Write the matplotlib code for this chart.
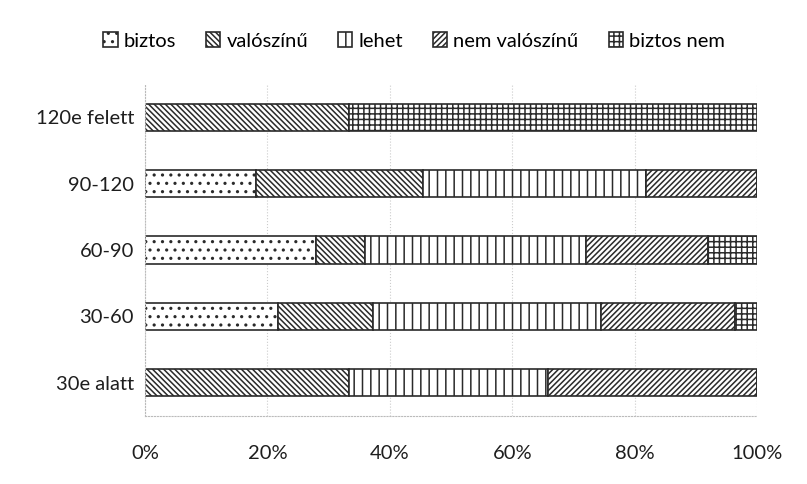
import matplotlib.pyplot as plt
import numpy as np

# data (percent of each age group)
groups = ["30e alatt", "30-60", "60-90", "90-120", "120e felett"]
answers = ["biztos", "valószínű", "lehet", "nem valószínű", "biztos nem"]
biztos = [0.0, 21.7, 28.0, 18.2, 0.0]
valoszinu = [33.3, 15.6, 8.0, 27.3, 33.3]
lehet = [32.6, 37.2, 36.0, 36.4, 0.0]
nem_valoszinu = [34.1, 21.9, 20.0, 18.1, 0.0]
biztos_nem = [0.0, 3.6, 8.0, 0.0, 66.7]
x_ticks = [0, 20, 40, 60, 80, 100]

HATCHES = ["..", "\\\\\\\\\\\\", "||", "//////", "+++"]
EDGE = "#2a2a2a"

plt.rcParams.update({
    "font.family": ["Lato", "DejaVu Sans"],
    "font.size": 14.5,
    "hatch.linewidth": 1.1,
    "hatch.color": EDGE,
})

fig = plt.figure(figsize=(8.07, 4.84), dpi=100)
ax = fig.add_axes([145 / 807, 1 - 416 / 484, 612 / 807, 332 / 484])

series = [biztos, valoszinu, lehet, nem_valoszinu, biztos_nem]
y = np.arange(len(groups))
left = np.zeros(len(groups))
handles = []
for name, vals, hatch in zip(answers, series, HATCHES):
    vals = np.array(vals)
    bars = ax.barh(y, vals, left=left, height=0.41, color="white",
                   edgecolor=EDGE, linewidth=1.2, hatch=hatch, label=name)
    handles.append(bars)
    left += vals

ax.set_xlim(0, 100)
ax.set_ylim(-0.5, len(groups) - 0.5)
ax.set_yticks(y)
ax.set_yticklabels(groups)
ax.set_xticks(x_ticks)
ax.set_xticklabels([f"{t}%" for t in x_ticks])
ax.tick_params(axis="both", length=0, labelsize=14.5, colors="#1e1e1e")
ax.tick_params(axis="x", pad=21)
ax.tick_params(axis="y", pad=8)

ax.set_axisbelow(True)
ax.grid(axis="x", color="#cccccc", linestyle=":", linewidth=0.8)
for side in ["top", "right"]:
    ax.spines[side].set_visible(False)
for side in ["left", "bottom"]:
    ax.spines[side].set_color("#bbbbbb")
    ax.spines[side].set_linestyle(":")
    ax.spines[side].set_linewidth(0.8)

fig.legend(handles=handles, labels=answers, loc="center", bbox_to_anchor=(414 / 807, 1 - 41 / 484),
           ncol=5, frameon=False, fontsize=14.5, handlelength=0.7, handleheight=0.7,
           handletextpad=0.3, columnspacing=1.5)

fig.savefig("out.png", dpi=100)
